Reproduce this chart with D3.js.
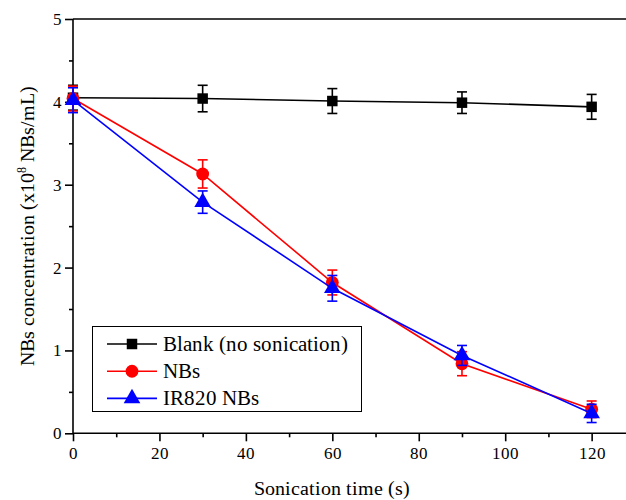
<!DOCTYPE html>
<html>
<head>
<meta charset="utf-8">
<style>
  @font-face { font-family: "ChartSerif"; src: local("Liberation Serif"), local("LiberationSerif"), local("LiberationSerif-Regular"); }
  body { margin: 0; background: #fff; }
  #chart text { font-family: "ChartSerif", "Liberation Serif", serif; }
</style>
<script src="https://cdn.jsdelivr.net/npm/d3@7.9.0/dist/d3.min.js"></script>
</head>
<body>
<svg id="chart" width="626" height="500" font-family="Liberation Serif"></svg>
<script>
// Data
const times = [0, 30, 60, 90, 120];
const blankMean = [4.05, 4.04, 4.01, 3.99, 3.94];
const blankErr = [0.15, 0.16, 0.15, 0.13, 0.15];
const nbsMean = [4.04, 3.13, 1.82, 0.84, 0.29];
const nbsErr = [0.15, 0.17, 0.15, 0.145, 0.1];
const irMean = [4.02, 2.79, 1.75, 0.94, 0.24];
const irErr = [0.15, 0.135, 0.155, 0.12, 0.11];
const seriesNames = ['Blank (no sonication)', 'NBs', 'IR820 NBs'];
const xTicks = [0, 20, 40, 60, 80, 100, 120];
const yTicks = [0, 1, 2, 3, 4, 5];

const width = 626, height = 500;
const margin = { top: 19, left: 73, bottom: 67 };

const series = [
  { name: seriesNames[0], mean: blankMean, err: blankErr, color: '#000000', shape: d3.symbolSquare, size: 110 },
  { name: seriesNames[1], mean: nbsMean, err: nbsErr, color: '#ff0000', shape: d3.symbolCircle, size: 130 },
  { name: seriesNames[2], mean: irMean, err: irErr, color: '#0000ff', shape: d3.symbolTriangle, size: 120 }
];

const svg = d3.select('#chart');

// x: 0..130 puts the right edge just off the page, like the reference
const x = d3.scaleLinear().domain([0, 130]).range([margin.left, margin.left + 130 * 4.322]);
const y = d3.scaleLinear().domain([0, 5]).range([height - margin.bottom + 0.3, margin.top]);

// Top border
svg.append('line')
  .attr('x1', margin.left).attr('x2', width)
  .attr('y1', y(5)).attr('y2', y(5))
  .attr('stroke', '#000').attr('stroke-width', 1.6);

// Minor ticks
const xMinor = svg.append('g')
  .attr('transform', `translate(0,${y(0)})`)
  .call(d3.axisBottom(x).tickValues(d3.range(10, 130, 20)).tickSize(4).tickFormat(''));
const yMinor = svg.append('g')
  .attr('transform', `translate(${margin.left},0)`)
  .call(d3.axisLeft(y).tickValues(d3.range(0.5, 5, 1)).tickSize(4).tickFormat(''));

// Major axes
const xAxis = svg.append('g')
  .attr('transform', `translate(0,${y(0)})`)
  .call(d3.axisBottom(x).tickValues(xTicks).tickSize(8).tickPadding(6).tickFormat(d3.format('d')));
const yAxis = svg.append('g')
  .attr('transform', `translate(${margin.left},0)`)
  .call(d3.axisLeft(y).tickValues(yTicks).tickSize(8).tickPadding(3).tickFormat(d3.format('d')));

[xMinor, yMinor, xAxis, yAxis].forEach(g => {
  g.attr('font-family', null);
  g.selectAll('.tick line').attr('stroke', '#000').attr('stroke-width', 1.6);
  g.select('.domain').remove();
});
xAxis.append('line').attr('x1', margin.left).attr('x2', width).attr('stroke', '#000').attr('stroke-width', 1.6);
yAxis.append('line').attr('y1', y(0)).attr('y2', y(5)).attr('stroke', '#000').attr('stroke-width', 1.6);
svg.selectAll('.tick text').attr('fill', '#000').attr('font-size', 17);

// Axis titles
svg.append('text')
  .attr('x', 332).attr('y', 495)
  .attr('text-anchor', 'middle')
  .attr('font-size', 20)
  .text('Sonication time (s)');

const yTitle = svg.append('text')
  .attr('transform', `translate(34,${(y(0) + y(5)) / 2}) rotate(-90)`)
  .attr('text-anchor', 'middle')
  .attr('font-size', 20);
yTitle.append('tspan').text('NBs concentration (x10');
yTitle.append('tspan').attr('font-size', 12).attr('dy', -8).text('8');
yTitle.append('tspan').attr('dy', 8).text(' NBs/mL)');

// Series
const line = d3.line().x(d => x(d[0])).y(d => y(d[1]));

series.forEach(s => {
  const pts = times.map((t, i) => [t, s.mean[i], s.err[i]]);
  const g = svg.append('g');
  g.append('path')
    .attr('d', line(pts))
    .attr('fill', 'none')
    .attr('stroke', s.color)
    .attr('stroke-width', 1.6);

  const eb = g.selectAll('.eb').data(pts).join('g');
  eb.append('line')
    .attr('x1', d => x(d[0])).attr('x2', d => x(d[0]))
    .attr('y1', d => y(d[1] - d[2])).attr('y2', d => y(d[1] + d[2]))
    .attr('stroke', s.color).attr('stroke-width', 1.6);
  [1, -1].forEach(sign => {
    eb.append('line')
      .attr('x1', d => x(d[0]) - 5).attr('x2', d => x(d[0]) + 5)
      .attr('y1', d => y(d[1] + sign * d[2])).attr('y2', d => y(d[1] + sign * d[2]))
      .attr('stroke', s.color).attr('stroke-width', 1.6);
  });

  g.selectAll('.mk').data(pts).join('path')
    .attr('transform', d => `translate(${x(d[0])},${y(d[1])})`)
    .attr('d', d3.symbol().type(s.shape).size(s.size))
    .attr('fill', s.color);
});

// Legend
const legend = svg.append('g');
legend.append('rect')
  .attr('x', 92.5).attr('y', 326.5)
  .attr('width', 269).attr('height', 85)
  .attr('fill', '#fff')
  .attr('stroke', '#000').attr('stroke-width', 1);

series.forEach((s, i) => {
  const ly = 344 + i * 27.2;
  legend.append('line')
    .attr('x1', 107).attr('x2', 157)
    .attr('y1', ly).attr('y2', ly)
    .attr('stroke', s.color).attr('stroke-width', 1.6);
  legend.append('path')
    .attr('transform', `translate(132,${ly})`)
    .attr('d', d3.symbol().type(s.shape).size(s.size))
    .attr('fill', s.color);
  legend.append('text')
    .attr('x', 163).attr('y', ly + 7)
    .attr('font-size', 21)
    .text(s.name);
});
</script>
</body>
</html>
